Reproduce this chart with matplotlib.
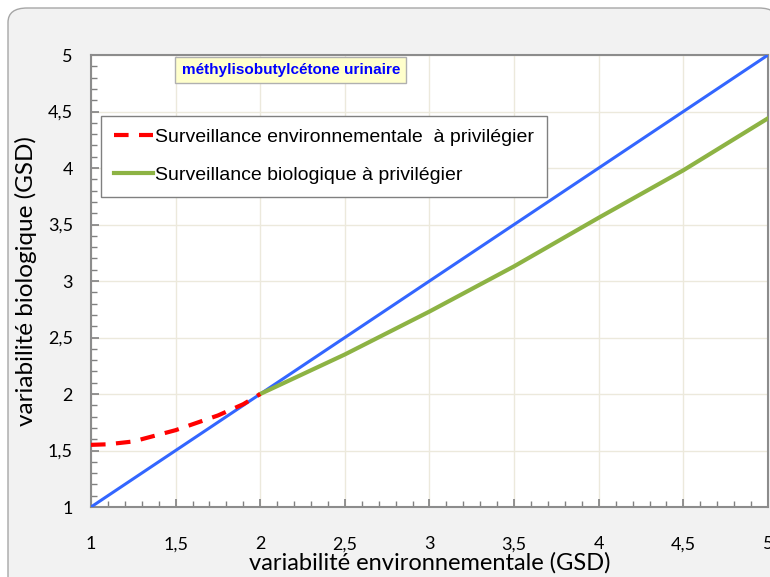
import numpy as np
import matplotlib.pyplot as plt
from matplotlib.patches import FancyBboxPatch

# data
x_env = [1.0, 1.1, 1.25, 1.5, 1.75, 1.9, 2.0]
y_env = [1.55, 1.555, 1.58, 1.68, 1.81, 1.91, 2.0]

x_bio = [2.0, 2.5, 3.0, 3.5, 4.0, 4.5, 5.0]
y_bio = [2.0, 2.35, 2.73, 3.13, 3.56, 3.98, 4.44]

x_ref = [1, 5]
y_ref = [1, 5]

titre = "méthylisobutylcétone urinaire"
lab_env = "Surveillance environnementale  à privilégier"
lab_bio = "Surveillance biologique à privilégier"

fig = plt.figure(figsize=(7.7, 5.77), dpi=100)
fig.patch.set_facecolor("white")
# fond gris arrondi
fond = FancyBboxPatch((8 / 770, -0.05), 1.0, 1.0 - 8 / 577 + 0.05,
                      boxstyle="round,pad=0,rounding_size=0.025",
                      transform=fig.transFigure, facecolor="#f2f2f2",
                      edgecolor="#a6a6a6", linewidth=1.0, zorder=-10)
fig.patches.append(fond)

ax = fig.add_axes([91 / 770, 1 - 507 / 577, 677 / 770, 452 / 577])
ax.set_facecolor("white")
ax.set_zorder(1)

ax.plot(x_ref, y_ref, color="#3366ff", lw=2.2, zorder=3)
ax.plot(x_bio, y_bio, color="#8db344", lw=3, zorder=4, label=lab_bio)
ax.plot(x_env, y_env, color="#ff0000", lw=3, dashes=(3.5, 2.5), zorder=5, label=lab_env)

ax.set_xlim(1, 5)
ax.set_ylim(1, 5)
ax.set_xticks(np.arange(1, 5.01, 0.5))
ax.set_yticks(np.arange(1, 5.01, 0.5))
ax.set_xticks(np.arange(1, 5.01, 0.1), minor=True)
ax.set_yticks(np.arange(1, 5.01, 0.1), minor=True)
fmt = lambda v: ("%g" % v).replace(".", ",")
ax.set_xticklabels([fmt(v) for v in np.arange(1, 5.01, 0.5)], fontfamily="Lato", fontsize=13)
ax.set_yticklabels([fmt(v) for v in np.arange(1, 5.01, 0.5)], fontfamily="Lato", fontsize=13)
ax.tick_params(which="both", direction="in", color="#808080")
ax.tick_params(which="major", length=6, width=1.2, pad=21)
ax.tick_params(axis="y", which="major", pad=13)
ax.tick_params(which="minor", length=4, width=1)
ax.grid(which="major", color="#ece9dc", lw=1)
ax.set_axisbelow(True)
for s in ax.spines.values():
    s.set_color("#8c8c8c")
    s.set_linewidth(1.5)

ax.set_xlabel("variabilité environnementale (GSD)", fontfamily="Lato", fontsize=17, labelpad=0)
ax.set_ylabel("variabilité biologique (GSD)", fontfamily="Lato", fontsize=17.5, labelpad=8)

ax.text(2.18, 4.87, titre, color="#0000ff", fontsize=11, fontweight="bold",
        fontfamily="Liberation Sans", ha="center", va="center", zorder=6,
        bbox=dict(boxstyle="square,pad=0.4", facecolor="#ffffcc", edgecolor="#b0b0b0", lw=1))

h, l = ax.get_legend_handles_labels()
leg = ax.legend(h[::-1], l[::-1], loc="upper left", bbox_to_anchor=(101 / 770, 1 - 116 / 577),
                bbox_transform=fig.transFigure, prop={"family": "Liberation Sans", "size": 14},
                fancybox=False, framealpha=1, edgecolor="#808080", handlelength=2.0,
                handletextpad=0.15, borderpad=0.65, labelspacing=1.05, borderaxespad=0)
leg.get_frame().set_linewidth(1)
leg.set_zorder(7)

fig.savefig("out.png", dpi=100)
